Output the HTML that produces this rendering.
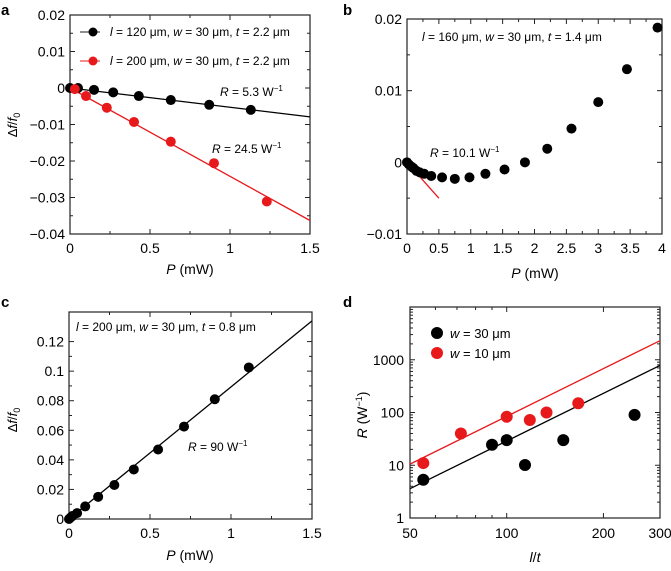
<!DOCTYPE html>
<html><head><meta charset="utf-8"><style>
body{margin:0;background:#fff}
svg{font-family:"Liberation Sans",sans-serif}
</style></head><body>
<svg id="s" width="671" height="566"></svg>
<script>
// Panel a
const aBlackP=[0,0.05,0.15,0.27,0.43,0.63,0.87,1.13];
const aBlackV=[0,0,-0.0005,-0.0012,-0.0022,-0.0033,-0.0046,-0.006];
const aRedP=[0.03,0.1,0.23,0.4,0.63,0.9,1.23];
const aRedV=[-0.0003,-0.0022,-0.0054,-0.0093,-0.0147,-0.0206,-0.0311];
const aBlackFit=[[0,0],[1.5,-0.0079]];
const aRedFit=[[0,0],[1.5,-0.0363]];
const aXTicks=["0","0.5","1","1.5"];
const aYTicks=["0.02","0.01","0","\u22120.01","\u22120.02","\u22120.03","\u22120.04"];
// Panel b
const bP=[0,0.03,0.07,0.1,0.15,0.2,0.27,0.38,0.55,0.75,0.98,1.23,1.53,1.85,2.2,2.58,3.0,3.45,3.93];
const bV=[0,-0.0003,-0.0006,-0.0008,-0.0012,-0.0014,-0.0016,-0.0019,-0.0021,-0.0023,-0.0021,-0.0016,-0.001,0,0.0019,0.0047,0.0084,0.013,0.0188];
const bFit=[[0,0],[0.5,-0.005]];
const bXTicks=["0","0.5","1","1.5","2","2.5","3","3.5","4"];
const bYTicks=["0.02","0.01","0","\u22120.01"];
// Panel c
const cP=[0,0.01,0.02,0.05,0.1,0.18,0.28,0.4,0.55,0.71,0.9,1.11];
const cV=[0,0.001,0.002,0.004,0.0085,0.015,0.023,0.0335,0.047,0.0625,0.081,0.1025];
const cFit=[[0,0],[1.5,0.134]];
const cXTicks=["0","0.5","1","1.5"];
const cYTicks=["0","0.02","0.04","0.06","0.08","0.1","0.12"];
// Panel d
const dBlackX=[55,90,100,114,150,250];
const dBlackY=[5.3,24.5,30,10.1,30,90];
const dRedX=[55,72,100,118,133,167];
const dRedY=[11,40,83,72,100,150];
const dBlackFit=[[50,3.6],[300,780]];
const dRedFit=[[50,10.5],[300,2300]];
const dXTicks=[50,100,200,300];
const dYTicks=[1,10,100,1000];

const S=document.getElementById('s');const NS='http://www.w3.org/2000/svg';
function mk(t,a,p){const e=document.createElementNS(NS,t);for(const k in a)e.setAttribute(k,a[k]);(p||S).appendChild(e);return e;}
function txt(x,y,s,o,name){const e=mk('text',Object.assign({x:x,y:y,'font-size':14},o||{}));e.innerHTML=s;

return e;}
function lin(d0,d1,r0,r1){return v=>r0+(v-d0)/(d1-d0)*(r1-r0);}
function lg(d0,d1,r0,r1){return v=>r0+(Math.log10(v)-Math.log10(d0))/(Math.log10(d1)-Math.log10(d0))*(r1-r0);}
function frame(x0,y0,x1,y1,name){const r=mk('rect',{x:x0,y:y0,width:x1-x0,height:y1-y0,fill:'none',stroke:'#222','stroke-width':1.2});

}
function tick(x1,y1,x2,y2){mk('line',{x1:x1,y1:y1,x2:x2,y2:y2,stroke:'#222','stroke-width':1});}
function dots(X,Y,sx,sy,col,r,name){X.forEach((v,i)=>{const c=mk('circle',{cx:sx(v),cy:sy(Y[i]),r:r,fill:col});

});}
function fit(F,sx,sy,col,name){const l=mk('line',{x1:sx(F[0][0]),y1:sy(F[0][1]),x2:sx(F[1][0]),y2:sy(F[1][1]),stroke:col,'stroke-width':1.3});

}
function linAxes(x0,y0,x1,y1,xv,xl,yv,yl,xs,ys,pre){
 frame(x0,y0,x1,y1,pre+'-frame');
 xv.forEach((v,i)=>{const x=xs(v);tick(x,y1,x,y1-5);tick(x,y0,x,y0+5);txt(x,y1+19,xl[i],{'text-anchor':'middle'},pre+'-x-tick');
  if(i<xv.length-1){const m=xs((v+xv[i+1])/2);tick(m,y1,m,y1-3);tick(m,y0,m,y0+3);}});
 yv.forEach((v,i)=>{const y=ys(v);tick(x0,y,x0+5,y);tick(x1,y,x1-5,y);txt(x0-5,y+5,yl[i],{'text-anchor':'end'},pre+'-y-tick');
  if(i<yv.length-1){const m=ys((v+yv[i+1])/2);tick(x0,m,x0+3,m);tick(x1,m,x1-3,m);}});
}
function lbl(x,y,s,name,sz){const e=txt(x,y,s,{'font-size':sz||15,'font-weight':'bold'},name);}
const um='\u03bcm';
// ---- a
{const sx=lin(0,1.5,70,310),sy=lin(0.02,-0.04,15,234);
linAxes(70,15,310,234,[0,0.5,1,1.5],aXTicks,[0.02,0.01,0,-0.01,-0.02,-0.03,-0.04],aYTicks,sx,sy,'panel-a');
fit(aBlackFit,sx,sy,'#000','panel-a-fit-black');fit(aRedFit,sx,sy,'#e8191b','panel-a-fit-red');
dots(aBlackP,aBlackV,sx,sy,'#000',5,'panel-a-black-point');dots(aRedP,aRedV,sx,sy,'#e8191b',5,'panel-a-red-point');
tick(80,32,100,32);mk('circle',{cx:93,cy:32,r:4.5,fill:'#000'});
mk('line',{x1:80,y1:61,x2:100,y2:61,stroke:'#e8191b'});mk('circle',{cx:93,cy:61,r:4.5,fill:'#e8191b'});
txt(110,36,'<tspan font-style="italic">l</tspan> = 120 '+um+', <tspan font-style="italic">w</tspan> = 30 '+um+', <tspan font-style="italic">t</tspan> = 2.2 '+um,{'font-size':12},'panel-a-legend-black');
txt(110,65,'<tspan font-style="italic">l</tspan> = 200 '+um+', <tspan font-style="italic">w</tspan> = 30 '+um+', <tspan font-style="italic">t</tspan> = 2.2 '+um,{'font-size':12},'panel-a-legend-red');
txt(220,96,'<tspan font-style="italic">R</tspan> = 5.3 W<tspan dy="-5" font-size="8">\u22121</tspan>',{'font-size':12},'panel-a-r-black');
txt(212,153,'<tspan font-style="italic">R</tspan> = 24.5 W<tspan dy="-5" font-size="8">\u22121</tspan>',{'font-size':12},'panel-a-r-red');
txt(190,274,'<tspan font-style="italic">P</tspan> (mW)',{'text-anchor':'middle','font-size':14},'panel-a-x-title');
txt(0,0,'\u0394<tspan font-style="italic">f</tspan>/<tspan font-style="italic">f</tspan><tspan font-size="9" dy="3">0</tspan>',{'text-anchor':'middle','font-size':13,transform:'translate(17,125) rotate(-90)'},'panel-a-y-title');
lbl(1,15,'a','panel-a-label');}
// ---- b
{const sx=lin(0,4,407,662),sy=lin(0.02,-0.01,19,234);
linAxes(407,19,662,234,[0,0.5,1,1.5,2,2.5,3,3.5,4],bXTicks,[0.02,0.01,0,-0.01],bYTicks,sx,sy,'panel-b');
fit(bFit,sx,sy,'#e8191b','panel-b-fit-red');
dots(bP,bV,sx,sy,'#000',5,'panel-b-point');
txt(422,41,'<tspan font-style="italic">l</tspan> = 160 '+um+', <tspan font-style="italic">w</tspan> = 30 '+um+', <tspan font-style="italic">t</tspan> = 1.4 '+um,{'font-size':12},'panel-b-annotation');
txt(430,157,'<tspan font-style="italic">R</tspan> = 10.1 W<tspan dy="-5" font-size="8">\u22121</tspan>',{'font-size':12},'panel-b-r');
txt(535,278,'<tspan font-style="italic">P</tspan> (mW)',{'text-anchor':'middle','font-size':14},'panel-b-x-title');
lbl(343,15,'b','panel-b-label');}
// ---- c
{const sx=lin(0,1.5,69,312),sy=lin(0,0.14,519,312);
linAxes(69,312,312,519,[0,0.5,1,1.5],cXTicks,[0,0.02,0.04,0.06,0.08,0.1,0.12],cYTicks,sx,sy,'panel-c');
fit(cFit,sx,sy,'#000','panel-c-fit');
dots(cP,cV,sx,sy,'#000',5,'panel-c-point');
txt(76,331,'<tspan font-style="italic">l</tspan> = 200 '+um+', <tspan font-style="italic">w</tspan> = 30 '+um+', <tspan font-style="italic">t</tspan> = 0.8 '+um,{'font-size':12},'panel-c-annotation');
txt(188,451,'<tspan font-style="italic">R</tspan> = 90 W<tspan dy="-5" font-size="8">\u22121</tspan>',{'font-size':12},'panel-c-r');
txt(190,560,'<tspan font-style="italic">P</tspan> (mW)',{'text-anchor':'middle','font-size':14},'panel-c-x-title');
txt(0,0,'\u0394<tspan font-style="italic">f</tspan>/<tspan font-style="italic">f</tspan><tspan font-size="9" dy="3">0</tspan>',{'text-anchor':'middle','font-size':13,transform:'translate(17,420) rotate(-90)'},'panel-c-y-title');
lbl(1,307,'c','panel-c-label');}
// ---- d
{const x0=410,x1=660,y0=307,y1=518;const sx=lg(50,300,x0,x1),sy=lg(1,10000,y1,y0);
frame(x0,y0,x1,y1,'panel-d-frame');
[50,60,70,80,90,100,200,300].forEach(v=>{const x=sx(v),L=dXTicks.includes(v)?5:3;tick(x,y1,x,y1-L);tick(x,y0,x,y0+L);});
dXTicks.forEach(v=>txt(sx(v),y1+20,String(v),{'text-anchor':'middle','font-size':14},'panel-d-x-tick'));
for(let d=1;d<10000;d*=10){for(let k=1;k<10;k++){const y=sy(d*k),L=k==1?5:3;tick(x0,y,x0+L,y);tick(x1,y,x1-L,y);}}
dYTicks.forEach(v=>txt(x0-6,sy(v)+5,String(v),{'text-anchor':'end','font-size':14},'panel-d-y-tick'));
fit(dBlackFit,sx,sy,'#000','panel-d-fit-black');fit(dRedFit,sx,sy,'#e8191b','panel-d-fit-red');
dots(dBlackX,dBlackY,sx,sy,'#000',6,'panel-d-black-point');dots(dRedX,dRedY,sx,sy,'#e8191b',6,'panel-d-red-point');
mk('circle',{cx:437,cy:333,r:6,fill:'#000'});mk('circle',{cx:437,cy:353,r:6,fill:'#e8191b'});
txt(450,338,'<tspan font-style="italic">w</tspan> = 30 '+um,{'font-size':13},'panel-d-legend-black');
txt(450,358,'<tspan font-style="italic">w</tspan> = 10 '+um,{'font-size':13},'panel-d-legend-red');
txt(535,562,'<tspan font-style="italic">l</tspan>/<tspan font-style="italic">t</tspan>',{'text-anchor':'middle','font-size':14},'panel-d-x-title');
txt(0,0,'<tspan font-style="italic">R</tspan> (W<tspan dy="-5" font-size="9">\u22121</tspan><tspan dy="5">)</tspan>',{'text-anchor':'middle','font-size':14,transform:'translate(367,415) rotate(-90)'},'panel-d-y-title');
lbl(343,307,'d','panel-d-label');}
</script>
</body></html>
